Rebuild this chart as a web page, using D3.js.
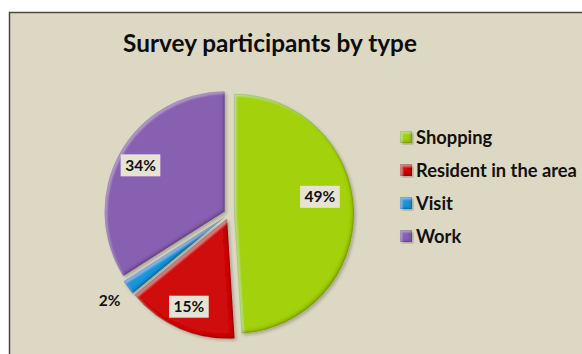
<!DOCTYPE html>
<html>
<head>
<meta charset="utf-8">
<script src="https://cdn.jsdelivr.net/npm/d3@7"></script>
<style>
  html, body { margin: 0; padding: 0; background: #ffffff; }
  svg { display: block; }
</style>
</head>
<body>
<svg id="chart" width="582" height="354"></svg>
<script>
// Survey participants, share by type (percent)
const categories = ["Shopping", "Resident in the area", "Visit", "Work"];
const values = [49, 15, 2, 34];
const colors = ["#a3d20a", "#d00c0c", "#1f95db", "#8861b2"];
const titleText = "Survey participants by type";

const W = 582, H = 354;
const svg = d3.select("#chart");
const defs = svg.append("defs");

// bevel look: light inner edge on the upper-left, dark inner edge on the lower-right, soft shadow
const bevel = defs.append("filter").attr("id", "bevel")
  .attr("x", "-10%").attr("y", "-10%").attr("width", "120%").attr("height", "120%");
function edge(dx, dy, blur, color, opacity, name) {
  bevel.append("feOffset").attr("in", "SourceAlpha").attr("dx", dx).attr("dy", dy).attr("result", name + "Off");
  bevel.append("feGaussianBlur").attr("in", name + "Off").attr("stdDeviation", blur).attr("result", name + "Blur");
  bevel.append("feComposite").attr("in", "SourceAlpha").attr("in2", name + "Blur").attr("operator", "out").attr("result", name + "Mask");
  bevel.append("feFlood").attr("flood-color", color).attr("flood-opacity", opacity).attr("result", name + "Col");
  bevel.append("feComposite").attr("in", name + "Col").attr("in2", name + "Mask").attr("operator", "in").attr("result", name);
}
edge(1.5, 2, 1.2, "#ffffff", 0.28, "hi");
edge(-2, -2.5, 1.4, "#000000", 0.35, "lo");
// thin darker outline all round
bevel.append("feMorphology").attr("in", "SourceAlpha").attr("operator", "erode").attr("radius", 1).attr("result", "er");
bevel.append("feComposite").attr("in", "SourceAlpha").attr("in2", "er").attr("operator", "out").attr("result", "rimMask");
bevel.append("feFlood").attr("flood-color", "#000000").attr("flood-opacity", 0.18).attr("result", "rimCol");
bevel.append("feComposite").attr("in", "rimCol").attr("in2", "rimMask").attr("operator", "in").attr("result", "rim");
bevel.append("feOffset").attr("in", "SourceAlpha").attr("dx", 1.5).attr("dy", 2).attr("result", "off");
bevel.append("feGaussianBlur").attr("in", "off").attr("stdDeviation", 1.8).attr("result", "offBlur");
bevel.append("feFlood").attr("flood-color", "#000000").attr("flood-opacity", 0.22).attr("result", "shColor");
bevel.append("feComposite").attr("in", "shColor").attr("in2", "offBlur").attr("operator", "in").attr("result", "shadow");
const merge = bevel.append("feMerge");
merge.append("feMergeNode").attr("in", "shadow");
merge.append("feMergeNode").attr("in", "SourceGraphic");
merge.append("feMergeNode").attr("in", "lo");
merge.append("feMergeNode").attr("in", "hi");
merge.append("feMergeNode").attr("in", "rim");

// chart frame
svg.append("rect")
  .attr("x", 9.5).attr("y", 12.5)
  .attr("width", W + 20).attr("height", H + 20)
  .attr("fill", "#ddd8c4")
  .attr("stroke", "#4f493f").attr("stroke-width", 1.5);

// title, sized to its measured width
const title = svg.append("text")
  .attr("x", 270).attr("y", 52)
  .attr("text-anchor", "middle")
  .attr("font-family", "Lato, 'Open Sans', sans-serif")
  .attr("font-weight", "bold")
  .attr("fill", "#0d0d0d")
  .attr("font-size", 24)
  .text(titleText);
const tw = title.node().getComputedTextLength();
title.attr("font-size", 24 * 294 / tw);

// pie
const cx = 229, cy = 214, r = 120, explode = 5;
const pie = d3.pie().sort(null).value(d => d)
  .startAngle(0).endAngle(2 * Math.PI);
const arcs = pie(values);
const arcGen = d3.arc().innerRadius(0).outerRadius(r);

const offsetOf = (a, dist) => {
  const m = (a.startAngle + a.endAngle) / 2;
  return [Math.sin(m) * dist, -Math.cos(m) * dist];
};

const g = svg.append("g").attr("transform", `translate(${cx},${cy})`);
g.selectAll("path.slice")
  .data(arcs)
  .join("path")
  .attr("class", "slice")
  .attr("transform", d => { const [dx, dy] = offsetOf(d, explode); return `translate(${dx},${dy})`; })
  .attr("d", arcGen)
  .attr("fill", (d, i) => colors[i])
  .attr("filter", "url(#bevel)");

// data labels: inside slices along the bisector, small slices outside
const fmt = v => v + "%";
const labelNudge = [[-10, -14], [0, 0], [0, 0], [0, 0]];
const labels = g.selectAll("g.lbl")
  .data(arcs)
  .join("g")
  .attr("class", "lbl")
  .attr("transform", (d, i) => {
    const share = d.value / d3.sum(values);
    const dist = share < 0.05 ? r * 1.23 : r * 0.8 + explode;
    const [x, y] = offsetOf(d, dist);
    return `translate(${x + labelNudge[i][0]},${y + labelNudge[i][1]})`;
  });

labels.each(function (d) {
  const share = d.value / d3.sum(values);
  const sel = d3.select(this);
  const t = sel.append("text")
    .attr("text-anchor", "middle")
    .attr("dy", "0.36em")
    .attr("font-family", "Lato, 'Open Sans', sans-serif")
    .attr("font-weight", "bold")
    .attr("font-size", 15.5)
    .attr("fill", "#111111")
    .text(fmt(d.value));
  if (share >= 0.05) {
    const bw = t.node().getComputedTextLength() + 9;
    sel.insert("rect", "text")
      .attr("x", -bw / 2).attr("y", -11)
      .attr("width", bw).attr("height", 22)
      .attr("fill", "#e7e3d4");
  }
});

// legend
const legend = svg.append("g").attr("transform", "translate(400,137)");
const rowH = 33;
const items = legend.selectAll("g.item")
  .data(categories)
  .join("g")
  .attr("class", "item")
  .attr("transform", (d, i) => `translate(0,${i * rowH})`);
items.append("rect")
  .attr("x", 0).attr("y", -6)
  .attr("width", 12).attr("height", 12)
  .attr("fill", (d, i) => colors[i])
  .attr("filter", "url(#bevel)");
const ltexts = items.append("text")
  .attr("x", 16).attr("dy", "0.36em")
  .attr("font-family", "Lato, 'Open Sans', sans-serif")
  .attr("font-weight", "bold")
  .attr("font-size", 16)
  .attr("fill", "#111111")
  .text(d => d);
const longest = ltexts.filter((d, i) => i === 1).node().getComputedTextLength();
ltexts.attr("font-size", 16 * 161 / longest);
</script>
</body>
</html>
